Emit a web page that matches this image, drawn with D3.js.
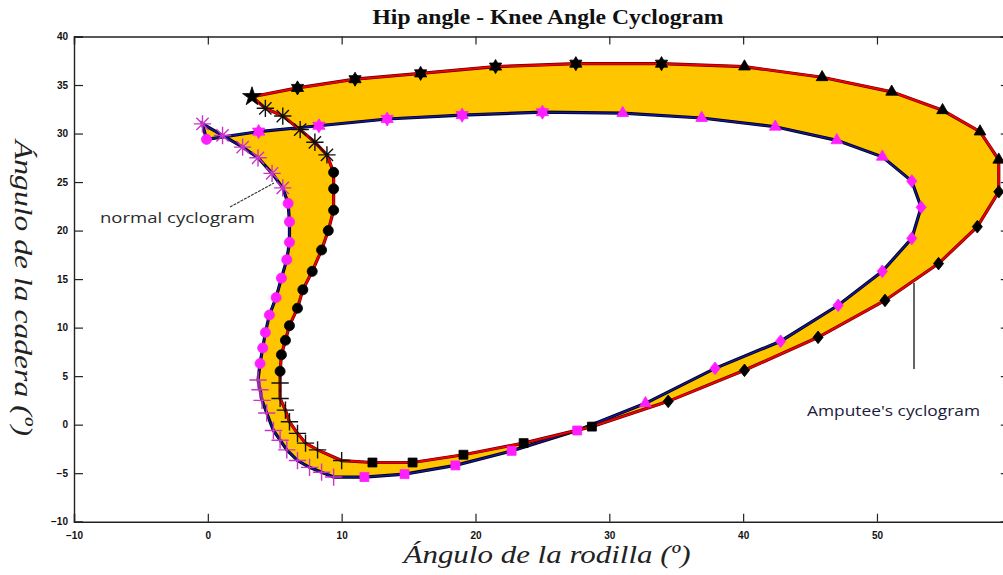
<!DOCTYPE html>
<html>
<head>
<meta charset="utf-8">
<script src="https://cdn.jsdelivr.net/npm/d3@7"></script>
<style>
  body { margin: 0; background: #fff; }
  svg { display: block; }
</style>
</head>
<body>
<svg id="chart" width="1003" height="575"></svg>
<script>
// Knee angle (x) and hip angle (y) over one gait cycle, degrees.
const normalKnee = [-0.4, -0.1, 3.8, 8.3, 13.4, 19.0, 25.0, 31.0, 36.9, 42.4, 47.0, 50.4,
  52.6, 53.3, 52.6, 50.4, 47.1, 42.8, 37.9, 32.7, 27.6, 22.7, 18.5, 14.7, 11.7,
  9.4, 8.5, 7.6, 6.7, 5.9, 5.4, 4.9, 4.4, 4.05, 3.9, 3.75,
  3.9, 4.1, 4.3, 4.6, 5.1, 5.5, 5.9, 6.1, 6.1, 6.0,
  5.6, 4.8, 3.75, 2.6, 1.1];
const normalHip = [31.0, 29.4, 30.2, 30.8, 31.5, 31.9, 32.2, 32.1, 31.6, 30.7, 29.3, 27.6,
  25.1, 22.4, 19.2, 15.8, 12.3, 8.6, 5.8, 2.2, -0.6, -2.7, -4.2, -5.1, -5.4,
  -5.4, -4.9, -4.4, -3.7, -2.6, -1.6, -0.6, 1.2, 2.5, 3.6, 4.6,
  6.3, 7.9, 9.5, 11.3, 13.1, 15.1, 17.0, 18.8, 20.9, 22.8,
  24.4, 25.9, 27.5, 28.6, 29.8];

const amputeeKnee = [3.3, 6.7, 11.0, 15.9, 21.5, 27.5, 33.9, 40.1, 45.9, 51.1, 54.9, 57.7, 59.1,
  59.1, 57.5, 54.6, 50.6, 45.6, 40.1, 34.4, 28.7, 23.6, 19.1, 15.3, 12.3,
  10.0, 8.2, 7.3, 6.7, 6.1, 5.8, 5.4, 5.4,
  5.4, 5.5, 5.8, 6.1, 6.7, 7.1, 7.8, 8.5, 9.0, 9.4, 9.4, 9.4,
  8.9, 8.0, 6.9, 5.6, 4.3];
const amputeeHip = [33.8, 34.7, 35.6, 36.2, 36.9, 37.2, 37.2, 36.9, 35.8, 34.3, 32.4, 30.2, 27.3,
  24.0, 20.4, 16.6, 12.8, 9.0, 5.6, 2.4, -0.2, -1.9, -3.1, -3.9, -3.9,
  -3.7, -2.6, -1.9, -0.9, 0.3, 1.5, 2.7, 4.3,
  5.5, 7.2, 8.7, 10.2, 12.0, 13.9, 15.8, 18.0, 20.0, 22.1, 24.3, 26.0,
  27.8, 29.1, 30.4, 31.8, 32.6];

const xTicks = [-10, 0, 10, 20, 30, 40, 50, 60];
const yTicks = [-10, -5, 0, 5, 10, 15, 20, 25, 30, 35, 40];

const titleText = "Hip angle - Knee Angle Cyclogram";
const xLabelText = "Ángulo de la rodilla (º)";
const yLabelText = "Ángulo de la cadera (º)";
const normalNote = "normal cyclogram";
const amputeeNote = "Amputee's cyclogram";

// ---------------------------------------------------------------------------
const svg = d3.select("#chart");
const x = d3.scaleLinear().domain([-10, 60]).range([74, 1010.8]);
const y = d3.scaleLinear().domain([-10, 40]).range([521.7, 36.5]);

const normal = normalKnee.map((k, i) => [k, normalHip[i]]);
const amputee = amputeeKnee.map((k, i) => [k, amputeeHip[i]]);

const line = d3.line().x(d => x(d[0])).y(d => y(d[1]));

// Area between the two loops (symmetric difference of the closed curves)
svg.append("path")
  .attr("d", line(normal) + "Z" + line(amputee) + "Z")
  .attr("fill", "#ffc600")
  .attr("fill-rule", "evenodd")
  .attr("stroke", "none");

// Curves
const g = svg.append("g");
g.append("path").attr("d", line(normal) + "Z")
  .attr("fill", "none").attr("stroke", "#000").attr("stroke-width", 3.2);
g.append("path").attr("d", line(normal) + "Z")
  .attr("fill", "none").attr("stroke", "#1414a8").attr("stroke-width", 1.5);
g.append("path").attr("d", line(amputee) + "Z")
  .attr("fill", "none").attr("stroke", "#5a0000").attr("stroke-width", 3.2);
g.append("path").attr("d", line(amputee) + "Z")
  .attr("fill", "none").attr("stroke", "#f00000").attr("stroke-width", 2);

// Marker shapes
const symAsterisk = { draw(ctx, size) {
  const r = Math.sqrt(size) / 2;
  for (let a = 0; a < 4; a++) {
    const t = a * Math.PI / 4;
    ctx.moveTo(-r * Math.cos(t), -r * Math.sin(t));
    ctx.lineTo(r * Math.cos(t), r * Math.sin(t));
  }
}};
const symPlus = { draw(ctx, size) {
  const r = Math.sqrt(size) / 2;
  ctx.moveTo(-r, 0); ctx.lineTo(r, 0);
  ctx.moveTo(0, -r); ctx.lineTo(0, r);
}};
const symDiamond = { draw(ctx, size) {
  const r = Math.sqrt(size) / 2;
  ctx.moveTo(0, -r); ctx.lineTo(r * 0.8, 0); ctx.lineTo(0, r); ctx.lineTo(-r * 0.8, 0); ctx.closePath();
}};
const symHexagram = { draw(ctx, size) {
  const r = Math.sqrt(size) / 2;
  for (let k = 0; k < 2; k++) {
    for (let i = 0; i < 3; i++) {
      const t = -Math.PI / 2 + k * Math.PI + i * 2 * Math.PI / 3;
      const px = r * Math.cos(t), py = r * Math.sin(t);
      if (i === 0) ctx.moveTo(px, py); else ctx.lineTo(px, py);
    }
    ctx.closePath();
  }
}};

const styles = {
  asterisk:  { type: symAsterisk, size: 300, filled: false },
  plus:      { type: symPlus, size: 300, filled: false },
  circle:    { type: d3.symbolCircle, size: 80, filled: true },
  hexagram:  { type: symHexagram, size: 200, filled: true },
  pentagram: { type: d3.symbolStar, size: 110, filled: true },
  triangle:  { type: d3.symbolTriangle, size: 60, filled: true },
  diamond:   { type: symDiamond, size: 160, filled: true },
  square:    { type: d3.symbolSquare, size: 80, filled: true }
};

// Marker kind for each stretch of the gait cycle: [first index, last index, kind]
const normalPhases = [[0, 0, "asterisk"], [1, 1, "circle"], [2, 6, "hexagram"], [7, 11, "triangle"],
  [12, 18, "diamond"], [19, 19, "triangle"], [20, 24, "square"], [25, 35, "plus"],
  [36, 45, "circle"], [46, 50, "asterisk"]];
const amputeePhases = [[0, 0, "pentagram"], [1, 6, "hexagram"], [7, 12, "triangle"],
  [13, 19, "diamond"], [20, 24, "square"], [25, 32, "plus"], [33, 44, "circle"],
  [45, 49, "asterisk"]];

function kindAt(phases, i) {
  for (const p of phases) if (i >= p[0] && i <= p[1]) return p[2];
  return "circle";
}

function drawMarkers(points, phases, fill, strokeColor) {
  const m = svg.append("g");
  points.forEach((d, i) => {
    const st = styles[kindAt(phases, i)];
    const sym = d3.symbol().type(st.type).size(st.size);
    const p = m.append("path")
      .attr("d", sym())
      .attr("transform", `translate(${x(d[0])},${y(d[1])})`);
    if (st.filled) {
      p.attr("fill", fill).attr("stroke", fill).attr("stroke-width", 0.8);
    } else {
      p.attr("fill", "none").attr("stroke", strokeColor).attr("stroke-width", 1.4);
    }
  });
}
drawMarkers(normal, normalPhases, "#ff1eff", "#cc33cc");
drawMarkers(amputee, amputeePhases, "#000", "#111");

// Axes (ticks pointing into the plot)
const tickFont = g => g.selectAll("text")
  .attr("font-family", "Liberation Sans, Arial, sans-serif")
  .attr("font-weight", "bold")
  .attr("font-size", 10)
  .attr("fill", "#111");

const axB = svg.append("g").attr("transform", `translate(0,${y(-10)})`)
  .call(d3.axisBottom(x).tickValues(xTicks).tickSize(-8).tickPadding(10).tickFormat(d3.format("d")));
const axL = svg.append("g").attr("transform", `translate(${x(-10)},0)`)
  .call(d3.axisLeft(y).tickValues(yTicks).tickSize(-9).tickPadding(6).tickFormat(d3.format("d")));
const axT = svg.append("g").attr("transform", `translate(0,${y(40)})`)
  .call(d3.axisTop(x).tickValues(xTicks).tickSize(-8).tickFormat(""));
const axR = svg.append("g").attr("transform", `translate(${x(60)},0)`)
  .call(d3.axisRight(y).tickValues(yTicks).tickSize(-10).tickFormat(""));

[axB, axL, axT, axR].forEach(a => {
  a.call(tickFont);
  a.select(".domain").attr("stroke", "#222").attr("stroke-width", 1.4);
  a.selectAll(".tick line").attr("stroke", "#222").attr("stroke-width", 1.2);
});

// Title and axis labels
svg.append("text")
  .attr("x", 548).attr("y", 24)
  .attr("text-anchor", "middle")
  .attr("font-family", "Liberation Serif, Times New Roman, serif")
  .attr("font-weight", "bold")
  .attr("font-size", 20)
  .attr("textLength", 351).attr("lengthAdjust", "spacingAndGlyphs")
  .attr("fill", "#111")
  .text(titleText);

svg.append("text")
  .attr("x", 547).attr("y", 563)
  .attr("text-anchor", "middle")
  .attr("font-family", "Liberation Serif, Times New Roman, serif")
  .attr("font-style", "italic")
  .attr("font-size", 26)
  .attr("textLength", 287).attr("lengthAdjust", "spacingAndGlyphs")
  .attr("fill", "#222")
  .text(xLabelText);

svg.append("text")
  .attr("transform", "translate(15,288) rotate(90)")
  .attr("text-anchor", "middle")
  .attr("font-family", "Liberation Serif, Times New Roman, serif")
  .attr("font-style", "italic")
  .attr("font-size", 26)
  .attr("textLength", 296).attr("lengthAdjust", "spacingAndGlyphs")
  .attr("fill", "#222")
  .text(yLabelText);

// Annotations
svg.append("line")
  .attr("x1", 230).attr("y1", 207).attr("x2", 274).attr("y2", 183)
  .attr("stroke", "#333").attr("stroke-width", 1.1).attr("stroke-dasharray", "3,1");
svg.append("text")
  .attr("x", 100).attr("y", 223)
  .attr("font-family", "Open Sans, Noto Sans, sans-serif")
  .attr("font-size", 15)
  .attr("textLength", 155).attr("lengthAdjust", "spacingAndGlyphs")
  .attr("fill", "#2a2a2a")
  .text(normalNote);

svg.append("line")
  .attr("x1", 914).attr("y1", 283).attr("x2", 914).attr("y2", 369)
  .attr("stroke", "#111").attr("stroke-width", 1.3);
svg.append("text")
  .attr("x", 807).attr("y", 416)
  .attr("font-family", "Open Sans, Noto Sans, sans-serif")
  .attr("font-size", 15)
  .attr("textLength", 173).attr("lengthAdjust", "spacingAndGlyphs")
  .attr("fill", "#1b1b3c")
  .text(amputeeNote);
</script>
</body>
</html>
